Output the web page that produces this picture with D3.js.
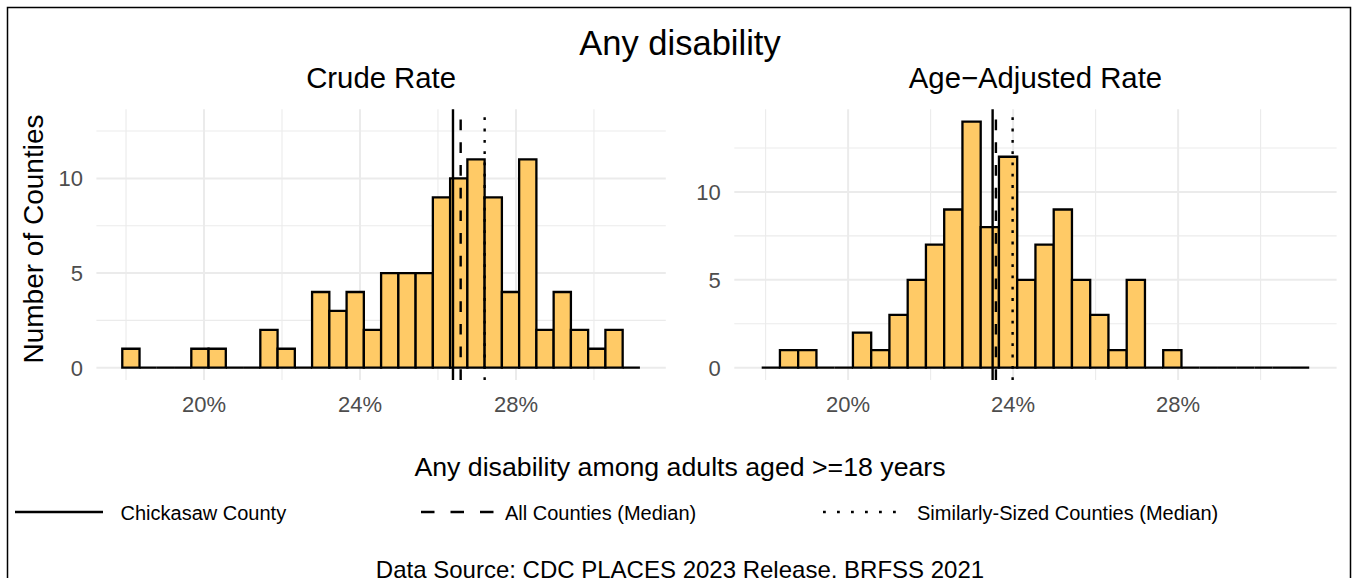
<!DOCTYPE html>
<html>
<head>
<meta charset="utf-8">
<script src="https://cdn.jsdelivr.net/npm/d3@7"></script>
<style>
  body { margin: 0; background: #fff; }
  text { font-family: "Liberation Sans", Arial, sans-serif; }
</style>
</head>
<body>
<div id="chart"></div>
<script>
// histogram bins shared by both panels (percent)
const binStart = 17.904
const binWidth = 0.4425

const crudeCounts = [1, 0, 0, 0, 1, 1, 0, 0, 2, 1, 0, 4, 3, 4, 2, 5, 5, 5, 9, 10, 11, 9, 4, 11, 2, 4, 2, 1, 2, 0]
const ageAdjCounts = [0, 1, 1, 0, 0, 2, 1, 3, 5, 7, 9, 14, 8, 12, 5, 7, 9, 5, 3, 1, 5, 0, 1, 0, 0, 0, 0, 0, 0, 0]

// reference lines: Chickasaw County, All Counties (Median), Similarly-Sized (Median)
const crudeRefs = [26.385, 26.582, 27.197]
const ageAdjRefs = [23.503, 23.583, 23.988]

const panelTitles = ['Crude Rate', 'Age\u2212Adjusted Rate']
const yMaxes = [13, 14]

const xTicks = [20, 24, 28]
const xMinor = [18, 22, 26, 30]
const yTicks = [0, 5, 10]
const yMinor = [2.5, 7.5, 12.5]

const legendLabels = ['Chickasaw County', 'All Counties (Median)', 'Similarly-Sized Counties (Median)']

const width = 1353
const height = 578

const svg = d3.select('#chart')
  .append('svg')
  .attr('width', width)
  .attr('height', height)

// outer frame
svg.append('rect')
  .attr('x', 7.5).attr('y', 7.5)
  .attr('width', 1343).attr('height', 620)
  .attr('fill', 'none')
  .attr('stroke', '#000')
  .attr('stroke-width', 1.5)

svg.append('text')
  .attr('x', 680).attr('y', 55)
  .attr('text-anchor', 'middle')
  .attr('font-size', 34.5)
  .text('Any disability')

// dash styles per reference line
const lineStyles = [null, '10.7 12', '2.8 8.5']
const keyStyles = [null, '13.5 16', '2.8 11.2']

const panels = [
  { counts: crudeCounts, refs: crudeRefs, x0: 96.4, x1: 665.8 },
  { counts: ageAdjCounts, refs: ageAdjRefs, x0: 734.3, x1: 1336.6 }
]
const panelTop = 109.3
const panelBottom = 380

panels.forEach((p, i) => {
  const lo = binStart
  const hi = binStart + p.counts.length * binWidth
  const pad = (hi - lo) * 0.05

  const xScale = d3.scaleLinear().domain([lo - pad, hi + pad]).range([p.x0, p.x1])
  const ymax = yMaxes[i]
  const yScale = d3.scaleLinear().domain([-ymax * 0.05, ymax * 1.05]).range([panelBottom, panelTop])

  const g = svg.append('g')

  // grid
  g.selectAll('.xminor').data(xMinor).enter().append('line')
    .attr('x1', d => xScale(d)).attr('x2', d => xScale(d))
    .attr('y1', panelTop).attr('y2', panelBottom)
    .attr('stroke', '#EBEBEB').attr('stroke-width', 1.1)
  g.selectAll('.yminor').data(yMinor).enter().append('line')
    .attr('x1', p.x0).attr('x2', p.x1)
    .attr('y1', d => yScale(d)).attr('y2', d => yScale(d))
    .attr('stroke', '#EBEBEB').attr('stroke-width', 1.1)
  g.selectAll('.xmajor').data(xTicks).enter().append('line')
    .attr('x1', d => xScale(d)).attr('x2', d => xScale(d))
    .attr('y1', panelTop).attr('y2', panelBottom)
    .attr('stroke', '#EBEBEB').attr('stroke-width', 2)
  g.selectAll('.ymajor').data(yTicks).enter().append('line')
    .attr('x1', p.x0).attr('x2', p.x1)
    .attr('y1', d => yScale(d)).attr('y2', d => yScale(d))
    .attr('stroke', '#EBEBEB').attr('stroke-width', 2)

  // bars (paths so empty bins still show their outline)
  g.selectAll('.bar').data(p.counts).enter().append('path')
    .attr('d', (d, k) => {
      const a = xScale(binStart + k * binWidth)
      const b = xScale(binStart + (k + 1) * binWidth)
      const y0 = yScale(0)
      const y1 = yScale(d)
      return `M${a},${y0}V${y1}H${b}V${y0}Z`
    })
    .attr('fill', '#FFCA66')
    .attr('stroke', '#000')
    .attr('stroke-width', 2.3)
    .attr('stroke-linejoin', 'miter')

  // reference lines, drawn bottom to top
  g.selectAll('.ref').data(p.refs).enter().append('line')
    .attr('x1', d => xScale(d)).attr('x2', d => xScale(d))
    .attr('y1', panelBottom).attr('y2', panelTop)
    .attr('stroke', '#000')
    .attr('stroke-width', 2.4)
    .attr('stroke-dasharray', (d, k) => lineStyles[k])

  // axes labels
  g.selectAll('.xlab').data(xTicks).enter().append('text')
    .attr('x', d => xScale(d)).attr('y', 411.5)
    .attr('text-anchor', 'middle')
    .attr('font-size', 22)
    .attr('fill', '#4D4D4D')
    .text(d => d + '%')

  g.selectAll('.ylab').data(yTicks).enter().append('text')
    .attr('x', p.x0 - 13.5).attr('y', d => yScale(d))
    .attr('dy', '0.36em')
    .attr('text-anchor', 'end')
    .attr('font-size', 22)
    .attr('fill', '#4D4D4D')
    .text(d => d)

  g.append('text')
    .attr('x', (p.x0 + p.x1) / 2).attr('y', 88)
    .attr('text-anchor', 'middle')
    .attr('font-size', 29.3)
    .text(panelTitles[i])
})

// y axis title
svg.append('text')
  .attr('transform', 'translate(43,239) rotate(-90)')
  .attr('text-anchor', 'middle')
  .attr('font-size', 28)
  .text('Number of Counties')

// x axis title
svg.append('text')
  .attr('x', 680).attr('y', 476)
  .attr('text-anchor', 'middle')
  .attr('font-size', 26.7)
  .text('Any disability among adults aged >=18 years')

// legend
const legendKeys = [[15, 103, 120.5], [421, 494, 505], [823, 907, 917]]
const legend = svg.append('g')
legendLabels.forEach((label, k) => {
  const [a, b, t] = legendKeys[k]
  legend.append('line')
    .attr('x1', a).attr('x2', b)
    .attr('y1', 512).attr('y2', 512)
    .attr('stroke', '#000')
    .attr('stroke-width', 2.6)
    .attr('stroke-dasharray', keyStyles[k])
  legend.append('text')
    .attr('x', t).attr('y', 519.5)
    .attr('font-size', 20)
    .text(label)
})

// caption (cut by the bottom edge, as in the source image)
svg.append('text')
  .attr('x', 680).attr('y', 578)
  .attr('text-anchor', 'middle')
  .attr('font-size', 24)
  .text('Data Source: CDC PLACES 2023 Release, BRFSS 2021')
</script>
</body>
</html>
